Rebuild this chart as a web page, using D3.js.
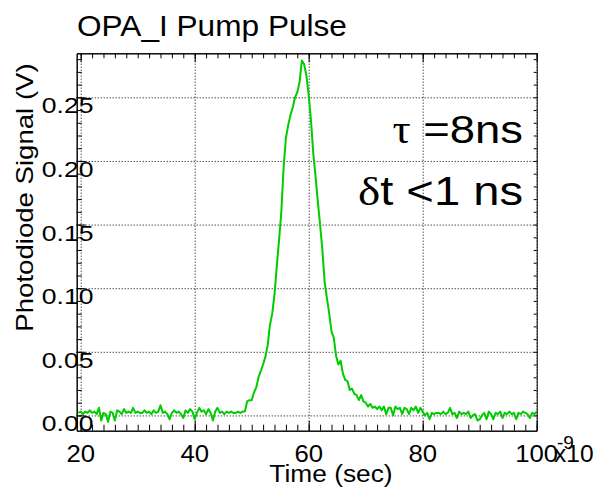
<!DOCTYPE html>
<html lang="en">
<head>
<meta charset="utf-8">
<title>OPA_I Pump Pulse</title>
<style>
  body { margin: 0; background: #fff; }
  svg text { font-family: "Liberation Sans", Arial, sans-serif; fill: #000; }
</style>
</head>
<body>
<script src="https://cdn.jsdelivr.net/npm/d3@7"></script>
<script>

// photodiode trace, sampled every dt ns starting at t0 ns (values in V)
const t0 = 19.6, dt = 0.4;
const signal = [
  0.002, 0.003, 0.001, 0.003, 0.002, 0.004, 0.002, 0.003, 0.001, 0.006,   // 19.6
  -0.004, 0.002, 0.001, -0.005, 0.003, 0.002, -0.004, 0.004, 0.003, 0.001, // 23.6
  0.005, 0.002, 0.003, 0.002, 0.006, 0.002, 0.003, 0.002, 0.002, 0.004,   // 27.6
  0.002, 0.003, 0.001, 0.004, 0.002, 0.003, 0.008, 0.002, 0.003, 0.001,   // 31.6
  -0.003, 0.002, 0.004, 0.002, 0.003, 0.001, -0.002, 0.004, 0.002, 0.005, // 35.6
  0.003, -0.003, 0.002, 0.006, 0.003, 0.004, 0.001, 0.005, 0.002, -0.004, // 39.6
  0.003, 0.006, 0.002, 0.003, 0.001, 0.003, 0.002, 0.003, 0.002, 0.002,   // 43.6
  0.003, 0.002, 0.003, 0.003, 0.011, 0.012, 0.012, 0.018, 0.022, 0.030,   // 47.6
  0.035, 0.040, 0.046, 0.055, 0.071, 0.080, 0.095, 0.117, 0.138, 0.160,   // 51.6
  0.195, 0.218, 0.228, 0.236, 0.242, 0.250, 0.254, 0.262, 0.279, 0.276,   // 55.6
  0.267, 0.252, 0.232, 0.206, 0.188, 0.168, 0.150, 0.130, 0.105, 0.092,   // 59.6
  0.080, 0.066, 0.061, 0.047, 0.040, 0.043, 0.033, 0.028, 0.027, 0.020,   // 63.6
  0.021, 0.017, 0.016, 0.012, 0.016, 0.011, 0.010, 0.007, 0.009, 0.006,   // 67.6
  0.007, 0.005, 0.007, 0.004, 0.007, 0.001, 0.006, 0.006, 0.000, 0.007,   // 71.6
  0.005, 0.006, 0.001, 0.006, 0.005, 0.001, 0.006, 0.004, 0.007, 0.002,   // 75.6
  0.006, 0.003, 0.000, 0.002, -0.003, 0.002, 0.001, 0.002, 0.002, 0.001,  // 79.6
  0.003, 0.001, 0.002, 0.006, 0.001, 0.002, -0.002, 0.003, 0.001, 0.002,  // 83.6
  0.001, 0.003, -0.002, 0.000, 0.001, -0.004, -0.003, 0.000, 0.002, -0.003, // 87.6
  0.003, 0.001, -0.003, 0.002, 0.001, 0.003, -0.002, 0.002, 0.001, 0.003, // 91.6
  0.001, 0.002, -0.003, 0.002, 0.001, 0.003, 0.002, 0.001, -0.002, 0.002, // 95.6
  0.001, 0.003                                                             // 99.6
];

const xMajor = [20, 40, 60, 80, 100];
const xLabels = ["20", "40", "60", "80", "100"];
const yMajor = [0, 0.05, 0.10, 0.15, 0.20, 0.25];
const yLabels = ["0.00", "0.05", "0.10", "0.15", "0.20", "0.25"];
const xMinor = d3.range(20, 101, 2);
const yMinor = d3.range(0, 0.285, 0.01);

const W = 596, H = 488;
const box = { left: 76.7, right: 536.7, top: 53.3, bottom: 430.7 };

const svg = d3.select("body").append("svg")
  .attr("width", W)
  .attr("height", H);

const x = d3.scaleLinear().domain([19.3, 100]).range([box.left, box.right]);
const y = d3.scaleLinear().domain([-0.012, 0.2846]).range([box.bottom, box.top]);

// dotted grid
svg.append("g")
  .attr("transform", `translate(0,${box.bottom})`)
  .call(d3.axisBottom(x).tickValues(xMajor).tickSize(-(box.bottom - box.top)).tickFormat(""))
  .call(g => g.select(".domain").remove())
  .selectAll("line").attr("stroke", "#000").attr("stroke-dasharray", "1,2");

svg.append("g")
  .attr("transform", `translate(${box.left},0)`)
  .call(d3.axisLeft(y).tickValues(yMajor).tickSize(-(box.right - box.left)).tickFormat(""))
  .call(g => g.select(".domain").remove())
  .selectAll("line").attr("stroke", "#000").attr("stroke-dasharray", "1,2");

// trace
const line = d3.line()
  .x((d, i) => x(t0 + i * dt))
  .y(d => y(d));

svg.append("path")
  .datum(signal)
  .attr("fill", "none")
  .attr("stroke", "#00cc00")
  .attr("stroke-width", 2)
  .attr("stroke-linejoin", "round")
  .attr("d", line);

// frame with inward ticks
function frame(axis, tr) {
  const g = svg.append("g").attr("transform", tr);
  g.call(axis);
  g.selectAll("text").remove();
  g.selectAll("line").attr("stroke", "#000");
  g.select(".domain").attr("stroke", "#000");
  return g;
}
const noLab = () => "";
frame(d3.axisBottom(x).tickValues(xMinor).tickSize(-6).tickSizeOuter(0).tickFormat(noLab), `translate(0,${box.bottom})`);
frame(d3.axisBottom(x).tickValues(xMajor).tickSize(-10).tickSizeOuter(0).tickFormat(noLab), `translate(0,${box.bottom})`);
frame(d3.axisTop(x).tickValues(xMinor).tickSize(-5).tickSizeOuter(0).tickFormat(noLab), `translate(0,${box.top})`);
frame(d3.axisTop(x).tickValues(xMajor).tickSize(-9).tickSizeOuter(0).tickFormat(noLab), `translate(0,${box.top})`);
frame(d3.axisLeft(y).tickValues(yMinor).tickSize(-5).tickSizeOuter(0).tickFormat(noLab), `translate(${box.left},0)`);
frame(d3.axisLeft(y).tickValues(yMajor).tickSize(-9).tickSizeOuter(0).tickFormat(noLab), `translate(${box.left},0)`);
frame(d3.axisRight(y).tickValues(yMinor).tickSize(-3).tickSizeOuter(0).tickFormat(noLab), `translate(${box.right},0)`);

// tick labels
svg.append("g").selectAll("text")
  .data(yMajor)
  .join("text")
  .attr("transform", d => `translate(93.5,${y(d) + 16}) scale(1.18,1)`)
  .attr("text-anchor", "end")
  .attr("font-size", 22.5)
  .text((d, i) => yLabels[i]);

svg.append("g").selectAll("text")
  .data(xMajor)
  .join("text")
  .attr("transform", d => `translate(${x(d)},462) scale(1.05,1)`)
  .attr("text-anchor", "middle")
  .attr("font-size", 24.5)
  .text((d, i) => xLabels[i]);

svg.append("text")
  .attr("x", 554)
  .attr("y", 462)
  .attr("font-size", 24.5)
  .text("x10");

svg.append("text")
  .attr("x", 557)
  .attr("y", 449)
  .attr("font-size", 19)
  .text("-9");

// titles
svg.append("text")
  .attr("transform", "translate(77,36) scale(1.09,1)")
  .attr("font-size", 29)
  .text("OPA_I Pump Pulse");

svg.append("text")
  .attr("transform", "translate(331,481.7) scale(1.12,1)")
  .attr("text-anchor", "middle")
  .attr("font-size", 23.5)
  .text("Time (sec)");

svg.append("text")
  .attr("transform", "translate(33.3,197.5) rotate(-90) scale(1.2,1)")
  .attr("text-anchor", "middle")
  .attr("font-size", 23)
  .text("Photodiode Signal (V)");

// annotations
const tau = svg.append("text")
  .attr("transform", "translate(523,143.3) scale(1.15,1)")
  .attr("text-anchor", "end")
  .attr("font-size", 39.5);
tau.append("tspan").attr("font-family", "'Liberation Serif', 'Times New Roman', serif").text("τ");
tau.append("tspan").text(" =8ns");

const jitter = svg.append("text")
  .attr("transform", "translate(523,205) scale(1.15,1)")
  .attr("text-anchor", "end")
  .attr("font-size", 41);
jitter.append("tspan").attr("font-family", "'Liberation Serif', 'Times New Roman', serif").text("δ");
jitter.append("tspan").text("t <1 ns");

</script>
</body>
</html>
